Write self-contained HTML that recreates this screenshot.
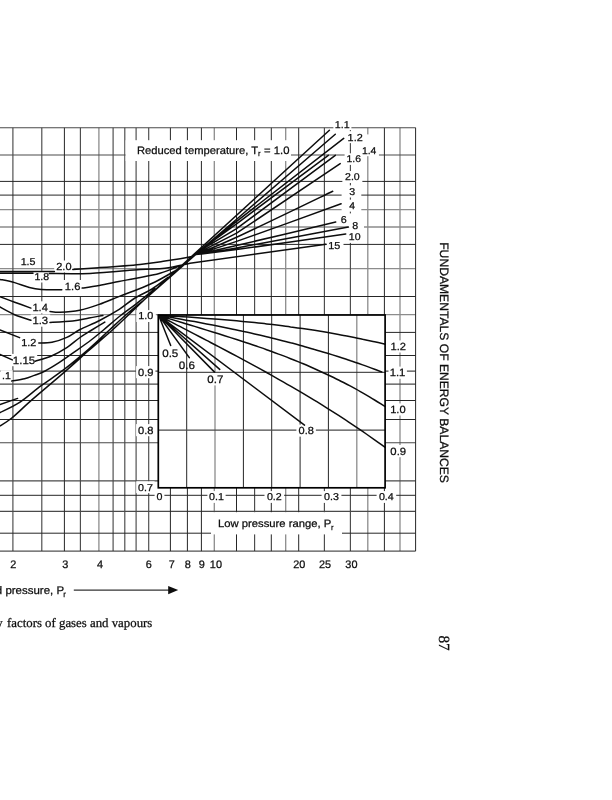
<!DOCTYPE html>
<html><head><meta charset="utf-8"><title>Compressibility chart</title>
<style>html,body{margin:0;padding:0;background:#fff;width:612px;height:800px;overflow:hidden}svg{display:block;text-rendering:geometricPrecision}</style>
</head><body>
<svg width="612" height="800" viewBox="0 0 612 800">
<rect width="612" height="800" fill="#fff"/>
<path d="M98.9 127.7V551.1M214.3 127.7V551.1M285.7 127.7V551.1M367.8 127.7V551.1M400.0 127.7V551.1M0.0 209.7H415.6M0.0 227.0H415.6M0.0 268.7H415.6M0.0 314.6H415.6" stroke="#8c8c8c" stroke-width="1.30" fill="none"/>
<path d="M12.9 127.7V551.1M41.8 127.7V551.1M80.4 127.7V551.1M113.1 127.7V551.1M124.8 127.7V551.1M136.1 127.7V551.1M148.7 127.7V551.1M254.6 127.7V551.1M324.4 127.7V551.1M350.4 127.7V551.1M0.0 155.0H415.6M0.0 371.1H415.6M0.0 384.1H415.6M0.0 442.7H415.6M0.0 480.9H415.6M0.0 511.4H415.6" stroke="#4a4a4a" stroke-width="1.15" fill="none"/>
<path d="M64.4 127.7V551.1M170.4 127.7V551.1M187.4 127.7V551.1M201.4 127.7V551.1M236.5 127.7V551.1M271.3 127.7V551.1M298.7 127.7V551.1M384.4 127.7V551.1M0.0 181.4H415.6M0.0 195.1H415.6M0.0 244.4H415.6M0.0 296.5H415.6M0.0 332.4H415.6M0.0 355.5H415.6M0.0 400.5H415.6M0.0 419.5H415.6M0.0 495.3H415.6M0.0 533.2H415.6" stroke="#262626" stroke-width="1.00" fill="none"/>
<path d="M0 127.7H415.6" stroke="#4a4a4a" stroke-width="1.15" fill="none"/>
<path d="M415.6 127.7V551.1H0" stroke="#262626" stroke-width="1.00" fill="none"/>
<rect x="125.6" y="140.2" width="165.4" height="20.8" fill="#fff"/>
<rect x="211.0" y="512.2" width="131.0" height="22.2" fill="#fff"/>
<rect x="158.3" y="315.0" width="226.8" height="172.8" fill="#fff"/>
<path d="M186.7 315.0V487.8" stroke="#262626" stroke-width="1.00"/>
<path d="M215.0 315.0V487.8" stroke="#8c8c8c" stroke-width="1.30"/>
<path d="M243.4 315.0V487.8" stroke="#262626" stroke-width="1.00"/>
<path d="M271.7 315.0V487.8" stroke="#262626" stroke-width="1.00"/>
<path d="M300.1 315.0V487.8" stroke="#262626" stroke-width="1.00"/>
<path d="M328.4 315.0V487.8" stroke="#262626" stroke-width="1.00"/>
<path d="M356.8 315.0V487.8" stroke="#8c8c8c" stroke-width="1.30"/>
<path d="M158.3 372.3H385.1" stroke="#262626" stroke-width="1.00"/>
<path d="M158.3 430.1H385.1" stroke="#4a4a4a" stroke-width="1.15"/>
<rect x="63.0" y="281" width="19.5" height="15" fill="#fff"/>
<rect x="360.0" y="134.4" width="18.5" height="21.7" fill="#fff"/>
<rect x="342.5" y="171.2" width="19.7" height="11.7" fill="#fff"/>
<rect x="341.6" y="185.6" width="19.7" height="11.7" fill="#fff"/>
<rect x="341.6" y="199.8" width="19.7" height="11.6" fill="#fff"/>
<rect x="336.0" y="213.4" width="15.0" height="11.8" fill="#fff"/>
<rect x="348.0" y="220.1" width="16.0" height="11.8" fill="#fff"/>
<rect x="346.0" y="231.0" width="18.0" height="11.7" fill="#fff"/>
<rect x="326.6" y="239.9" width="16.9" height="11.9" fill="#fff"/>
<rect x="333.4" y="118.3" width="18.0" height="11.8" fill="#fff"/>
<rect x="345.6" y="131.2" width="19.5" height="11.9" fill="#fff"/>
<rect x="359.9" y="144.5" width="19.0" height="11.6" fill="#fff"/>
<rect x="344.6" y="153.3" width="18.6" height="11.6" fill="#fff"/>
<rect x="342.7" y="171.2" width="19.5" height="11.7" fill="#fff"/>
<rect x="347.0" y="185.6" width="10.4" height="11.7" fill="#fff"/>
<rect x="347.0" y="199.8" width="10.4" height="11.6" fill="#fff"/>
<rect x="338.7" y="213.4" width="10.2" height="11.8" fill="#fff"/>
<rect x="350.2" y="220.1" width="10.2" height="11.8" fill="#fff"/>
<rect x="347.0" y="231.0" width="15.8" height="11.7" fill="#fff"/>
<rect x="326.9" y="239.9" width="15.1" height="11.9" fill="#fff"/>
<rect x="18.9" y="255.7" width="18.8" height="11.8" fill="#fff"/>
<rect x="54.2" y="260.5" width="19.5" height="12.0" fill="#fff"/>
<rect x="32.9" y="270.8" width="18.0" height="11.7" fill="#fff"/>
<rect x="63.0" y="280.0" width="19.5" height="12.1" fill="#fff"/>
<rect x="30.7" y="301.3" width="19.5" height="12.1" fill="#fff"/>
<rect x="30.7" y="314.5" width="19.5" height="12.2" fill="#fff"/>
<rect x="19.4" y="336.2" width="19.1" height="11.9" fill="#fff"/>
<rect x="11.3" y="353.9" width="25.9" height="12.3" fill="#fff"/>
<rect x="0.5" y="370.2" width="12.2" height="11.7" fill="#fff"/>
<rect x="136.3" y="310.1" width="19.5" height="11.9" fill="#fff"/>
<rect x="136.1" y="366.1" width="19.3" height="12.1" fill="#fff"/>
<rect x="136.1" y="424.1" width="19.3" height="12.1" fill="#fff"/>
<rect x="136.2" y="481.3" width="18.4" height="11.8" fill="#fff"/>
<rect x="154.6" y="491.1" width="9.8" height="11.8" fill="#fff"/>
<rect x="207.4" y="491.1" width="18.2" height="11.8" fill="#fff"/>
<rect x="264.5" y="491.1" width="19.6" height="11.8" fill="#fff"/>
<rect x="321.6" y="491.1" width="19.8" height="11.8" fill="#fff"/>
<rect x="376.6" y="491.1" width="19.6" height="11.8" fill="#fff"/>
<rect x="388.5" y="340.4" width="19.8" height="12.1" fill="#fff"/>
<rect x="388.5" y="366.6" width="18.4" height="12.2" fill="#fff"/>
<rect x="388.5" y="403.4" width="19.3" height="12.1" fill="#fff"/>
<rect x="388.5" y="445.0" width="19.3" height="12.2" fill="#fff"/>
<rect x="205.5" y="373.0" width="19.5" height="12.4" fill="#fff"/>
<rect x="296.4" y="424.6" width="19.5" height="12.0" fill="#fff"/>
<path d="M158.6 315.3 L170.7 345.5 M158.6 315.3 L189.3 357.6 M158.6 315.3 L214.3 371.9 M158.6 315.3 L219.7 369.4 M158.6 315.3 L304.5 425.1 M158.6 315.3 C160.6 316.3 166.6 319.5 170.6 321.6 C174.6 323.7 178.6 325.8 182.6 327.8 C186.6 329.9 190.6 332.0 194.6 334.1 C198.6 336.2 202.6 338.3 206.6 340.4 C210.6 342.5 214.6 344.5 218.6 346.7 C222.6 348.8 226.6 350.9 230.6 353.0 C234.6 355.1 238.6 357.3 242.6 359.4 C246.6 361.6 250.6 363.7 254.6 365.9 C258.6 368.1 262.6 370.3 266.6 372.5 C270.6 374.8 274.6 377.0 278.6 379.3 C282.6 381.5 286.6 383.8 290.6 386.1 C294.6 388.5 298.6 390.8 302.6 393.2 C306.6 395.6 310.6 398.0 314.6 400.4 C318.6 402.8 322.6 405.3 326.6 407.8 C330.6 410.3 334.6 412.9 338.6 415.4 C342.6 418.0 346.6 420.6 350.6 423.3 C354.6 426.0 358.6 428.7 362.6 431.4 C366.6 434.2 370.9 437.2 374.6 439.8 C378.3 442.4 383.2 446.0 384.9 447.2 M158.6 315.3 C160.6 315.9 166.6 317.8 170.6 319.1 C174.6 320.3 178.6 321.5 182.6 322.7 C186.6 324.0 190.6 325.2 194.6 326.4 C198.6 327.6 202.6 328.9 206.6 330.1 C210.6 331.3 214.6 332.6 218.6 333.8 C222.6 335.1 226.6 336.3 230.6 337.6 C234.6 338.9 238.6 340.2 242.6 341.5 C246.6 342.8 250.6 344.1 254.6 345.5 C258.6 346.9 262.6 348.2 266.6 349.7 C270.6 351.1 274.6 352.6 278.6 354.1 C282.6 355.5 286.6 357.1 290.6 358.7 C294.6 360.2 298.6 361.9 302.6 363.5 C306.6 365.2 310.6 366.9 314.6 368.7 C318.6 370.5 322.6 372.3 326.6 374.2 C330.6 376.1 334.6 378.0 338.6 380.0 C342.6 382.0 346.6 384.1 350.6 386.2 C354.6 388.4 358.6 390.6 362.6 392.9 C366.6 395.2 370.9 397.7 374.6 400.0 C378.3 402.2 383.2 405.4 384.9 406.4 M158.6 315.3 C160.6 315.6 166.6 316.6 170.6 317.3 C174.6 318.0 178.6 318.7 182.6 319.4 C186.6 320.2 190.6 320.9 194.6 321.6 C198.6 322.4 202.6 323.1 206.6 323.9 C210.6 324.7 214.6 325.4 218.6 326.2 C222.6 327.0 226.6 327.9 230.6 328.7 C234.6 329.5 238.6 330.4 242.6 331.3 C246.6 332.1 250.6 333.0 254.6 333.9 C258.6 334.9 262.6 335.8 266.6 336.8 C270.6 337.7 274.6 338.7 278.6 339.7 C282.6 340.7 286.6 341.7 290.6 342.8 C294.6 343.8 298.6 344.9 302.6 346.0 C306.6 347.1 310.6 348.3 314.6 349.5 C318.6 350.6 322.6 351.8 326.6 353.0 C330.6 354.3 334.6 355.5 338.6 356.8 C342.6 358.1 346.6 359.4 350.6 360.8 C354.6 362.1 358.6 363.5 362.6 364.9 C366.6 366.3 371.4 368.1 374.6 369.3 C377.8 370.5 380.6 371.6 381.8 372.0 M158.6 315.3 C160.6 315.4 166.6 315.8 170.6 316.0 C174.6 316.2 178.6 316.5 182.6 316.7 C186.6 317.0 190.6 317.2 194.6 317.5 C198.6 317.8 202.6 318.1 206.6 318.4 C210.6 318.7 214.6 319.0 218.6 319.3 C222.6 319.6 226.6 320.0 230.6 320.3 C234.6 320.7 238.6 321.0 242.6 321.4 C246.6 321.8 250.6 322.2 254.6 322.6 C258.6 323.0 262.6 323.4 266.6 323.9 C270.6 324.4 274.6 324.8 278.6 325.3 C282.6 325.8 286.6 326.3 290.6 326.9 C294.6 327.4 298.6 327.9 302.6 328.5 C306.6 329.1 310.6 329.7 314.6 330.3 C318.6 331.0 322.6 331.6 326.6 332.3 C330.6 333.0 334.6 333.7 338.6 334.4 C342.6 335.1 346.6 335.9 350.6 336.7 C354.6 337.5 358.6 338.3 362.6 339.2 C366.6 340.0 370.9 341.0 374.6 341.8 C378.3 342.6 383.2 343.8 384.9 344.2 M0.0 271.4 L54.4 271.4 M72.8 269.4 C77.3 269.1 88.8 268.4 100.0 267.6 C111.2 266.8 129.2 265.5 140.0 264.4 C150.8 263.3 156.8 262.3 165.0 261.1 C173.2 259.9 184.3 258.2 189.5 257.1 C194.7 256.0 194.9 254.9 196.0 254.5 M0.0 273.2 L33.0 273.3 M49.3 273.5 C56.1 273.5 74.9 274.0 90.0 273.4 C105.1 272.8 127.5 270.5 140.0 269.6 C152.5 268.7 156.7 269.2 165.0 268.2 C173.3 267.1 185.8 264.1 190.0 263.3 M190.0 263.3 L326.0 244.3 M0.0 279.4 C2.4 279.9 9.8 281.2 14.7 282.6 C19.6 284.0 25.0 286.4 29.4 287.5 C33.8 288.6 35.8 289.0 41.2 289.4 C46.6 289.8 58.4 289.6 61.8 289.7 M82.2 288.1 C85.0 287.7 93.1 286.6 99.2 285.5 C105.3 284.4 112.8 282.7 118.8 281.5 C124.8 280.3 128.1 279.8 135.0 278.4 C141.9 277.0 151.7 275.6 160.0 273.2 C168.3 270.8 180.8 265.5 185.0 264.0 M0.0 296.8 C2.4 297.7 9.6 300.3 14.7 302.2 C19.8 304.1 28.2 307.1 30.9 308.1 M50.0 311.5 C51.7 311.6 55.1 312.5 60.0 312.3 C64.9 312.1 73.1 311.6 79.6 310.3 C86.1 309.0 92.7 306.7 99.2 304.4 C105.7 302.1 112.8 298.9 118.8 296.6 C124.8 294.3 129.0 292.9 135.0 290.5 C141.0 288.1 147.7 285.6 155.0 282.0 C162.3 278.4 175.0 270.8 179.0 268.6 M0.0 307.0 C2.4 308.3 9.6 312.5 14.7 314.7 C19.8 316.9 28.2 319.4 30.9 320.3 M50.0 322.4 C53.8 322.2 66.2 321.7 72.7 321.0 C79.2 320.3 84.0 319.0 89.0 318.1 C94.0 317.2 100.6 315.8 102.9 315.4 M0.0 330.0 L19.6 337.6 M38.8 343.0 C41.0 342.9 47.3 343.2 52.0 342.3 C56.7 341.4 62.1 339.5 66.8 337.4 C71.5 335.3 74.5 332.3 80.0 329.5 C85.5 326.7 93.1 323.9 99.6 320.5 C106.1 317.1 113.3 313.1 119.2 309.4 C125.1 305.6 129.5 301.4 135.0 298.0 C140.5 294.6 146.5 292.4 152.0 289.0 C157.5 285.6 165.3 279.3 168.0 277.4 M0.0 354.5 L12.3 359.9 M35.3 361.2 C38.1 360.3 46.8 358.0 52.0 355.7 C57.2 353.4 62.1 350.6 66.8 347.6 C71.5 344.6 75.8 340.4 80.0 337.5 C84.2 334.6 87.7 332.6 91.8 330.0 C95.9 327.4 102.6 323.4 104.8 322.1 M11.8 381.0 C13.9 380.6 20.8 379.7 24.5 378.8 C28.2 377.9 30.9 376.7 34.3 375.4 C37.7 374.1 40.9 373.2 45.1 371.0 C49.3 368.8 53.8 366.0 59.4 362.4 C65.0 358.8 73.2 352.8 78.5 349.1 C83.8 345.4 86.9 343.2 91.1 340.0 C95.3 336.8 98.7 334.0 103.5 330.0 C108.3 326.0 114.5 320.4 120.0 316.0 C125.5 311.6 130.4 308.4 136.2 303.8 C142.0 299.2 151.9 291.2 155.0 288.7 M0.0 404.5 L17.6 398.4 M0.0 412.6 C3.3 410.9 12.7 406.9 19.6 402.4 C26.5 397.9 33.8 391.1 41.2 385.7 C48.6 380.2 55.9 375.8 63.8 369.7 C71.7 363.6 81.2 355.7 88.8 349.1 C96.4 342.5 102.9 336.0 109.4 330.0 C115.9 324.0 122.2 318.0 128.0 313.0 C133.8 308.0 141.3 302.2 144.0 300.0 M0.0 425.9 C2.0 424.6 6.4 422.4 11.8 418.0 C17.2 413.6 23.7 407.0 32.4 399.4 C41.1 391.8 54.4 380.8 63.8 372.6 C73.2 364.5 80.7 357.6 88.8 350.5 C96.9 343.4 105.5 336.2 112.4 330.0 C119.3 323.8 124.7 318.5 130.0 313.5 C135.3 308.5 141.7 302.2 144.0 300.0 M196.0 254.5 C202.8 251.6 213.8 247.8 236.6 237.3 C259.4 226.8 316.7 199.0 332.7 191.3 M196.0 254.5 C202.8 252.3 212.4 249.8 236.6 241.4 C260.8 233.0 323.7 210.1 341.1 203.8 M196.0 254.5 C202.8 253.0 213.3 250.9 236.6 245.5 C259.9 240.1 319.2 225.9 335.7 222.0 M196.0 254.5 C202.8 253.4 211.2 252.5 236.6 247.9 C262.0 243.3 329.8 230.6 348.4 227.1 M196.0 254.5 C202.8 253.7 211.7 253.0 236.6 249.6 C261.6 246.2 327.5 236.5 345.7 233.9 M144.0 300.0 L329.4 130.3 M144.0 300.0 L207.0 244.6 L236.6 219.3 L335.3 134.2 M155.0 290.3 L205.0 246.3 L236.6 221.3 L343.7 138.4 M168.0 278.9 L203.0 248.1 L236.6 223.8 L328.3 155.3 M179.0 269.2 L200.0 250.7 L236.6 228.7 L335.3 155.3 M185.0 263.9 L197.0 253.4 L236.6 233.2 L340.2 163.6" stroke="#0d0d0d" stroke-width="1.5" fill="none" stroke-linecap="round" stroke-linejoin="round"/>
<rect x="158.3" y="315.0" width="226.8" height="172.8" fill="none" stroke="#000" stroke-width="1.7"/>
<g style="font-family:'Liberation Sans',Arial,Helvetica,sans-serif" fill="#0d0d0d" stroke="#0d0d0d" stroke-width="0.25">
<text x="334.80" y="127.55" font-size="10.00" textLength="14.87" lengthAdjust="spacingAndGlyphs">1.1</text>
<text x="347.64" y="140.55" font-size="10.14" textLength="15.09" lengthAdjust="spacingAndGlyphs">1.2</text>
<text x="361.92" y="153.55" font-size="9.71" textLength="14.45" lengthAdjust="spacingAndGlyphs">1.4</text>
<text x="346.52" y="162.35" font-size="9.71" textLength="14.45" lengthAdjust="spacingAndGlyphs">1.6</text>
<text x="345.07" y="180.35" font-size="9.86" textLength="14.66" lengthAdjust="spacingAndGlyphs">2.0</text>
<text x="349.30" y="194.75" font-size="9.86" textLength="5.87" lengthAdjust="spacingAndGlyphs">3</text>
<text x="349.34" y="208.85" font-size="9.71" textLength="5.78" lengthAdjust="spacingAndGlyphs">4</text>
<text x="340.80" y="222.65" font-size="10.00" textLength="5.95" lengthAdjust="spacingAndGlyphs">6</text>
<text x="352.36" y="229.35" font-size="10.00" textLength="5.95" lengthAdjust="spacingAndGlyphs">8</text>
<text x="348.78" y="240.15" font-size="9.86" textLength="11.73" lengthAdjust="spacingAndGlyphs">10</text>
<text x="328.16" y="249.25" font-size="10.14" textLength="12.07" lengthAdjust="spacingAndGlyphs">15</text>
<text x="20.65" y="264.95" font-size="10.00" textLength="14.87" lengthAdjust="spacingAndGlyphs">1.5</text>
<text x="56.25" y="269.95" font-size="10.29" textLength="15.30" lengthAdjust="spacingAndGlyphs">2.0</text>
<text x="34.41" y="279.95" font-size="9.86" textLength="14.66" lengthAdjust="spacingAndGlyphs">1.8</text>
<text x="64.83" y="289.55" font-size="10.43" textLength="15.51" lengthAdjust="spacingAndGlyphs">1.6</text>
<text x="32.42" y="310.85" font-size="10.43" textLength="15.51" lengthAdjust="spacingAndGlyphs">1.4</text>
<text x="32.42" y="324.15" font-size="10.57" textLength="15.72" lengthAdjust="spacingAndGlyphs">1.3</text>
<text x="21.24" y="345.55" font-size="10.14" textLength="15.09" lengthAdjust="spacingAndGlyphs">1.2</text>
<text x="12.84" y="363.65" font-size="10.71" textLength="22.31" lengthAdjust="spacingAndGlyphs">1.15</text>
<text x="1.96" y="379.35" font-size="9.86" textLength="8.80" lengthAdjust="spacingAndGlyphs">.1</text>
<text x="138.29" y="319.45" font-size="10.14" textLength="15.09" lengthAdjust="spacingAndGlyphs">1.0</text>
<text x="138.05" y="375.65" font-size="10.43" textLength="15.51" lengthAdjust="spacingAndGlyphs">0.9</text>
<text x="138.05" y="433.65" font-size="10.43" textLength="15.51" lengthAdjust="spacingAndGlyphs">0.8</text>
<text x="138.02" y="490.55" font-size="10.00" textLength="14.87" lengthAdjust="spacingAndGlyphs">0.7</text>
<text x="156.50" y="500.35" font-size="10.00" textLength="5.95" lengthAdjust="spacingAndGlyphs">0</text>
<text x="209.12" y="500.35" font-size="10.00" textLength="14.87" lengthAdjust="spacingAndGlyphs">0.1</text>
<text x="266.92" y="500.35" font-size="10.00" textLength="14.87" lengthAdjust="spacingAndGlyphs">0.2</text>
<text x="324.12" y="500.35" font-size="10.00" textLength="14.87" lengthAdjust="spacingAndGlyphs">0.3</text>
<text x="378.91" y="500.35" font-size="10.00" textLength="14.87" lengthAdjust="spacingAndGlyphs">0.4</text>
<text x="390.48" y="349.95" font-size="10.43" textLength="15.51" lengthAdjust="spacingAndGlyphs">1.2</text>
<text x="389.67" y="376.25" font-size="10.57" textLength="15.72" lengthAdjust="spacingAndGlyphs">1.1</text>
<text x="390.17" y="412.95" font-size="10.43" textLength="15.51" lengthAdjust="spacingAndGlyphs">1.0</text>
<text x="390.35" y="454.65" font-size="10.57" textLength="15.72" lengthAdjust="spacingAndGlyphs">0.9</text>
<text x="162.18" y="356.75" font-size="10.86" textLength="16.15" lengthAdjust="spacingAndGlyphs">0.5</text>
<text x="178.83" y="368.65" font-size="10.86" textLength="16.15" lengthAdjust="spacingAndGlyphs">0.6</text>
<text x="207.23" y="382.85" font-size="10.86" textLength="16.15" lengthAdjust="spacingAndGlyphs">0.7</text>
<text x="298.56" y="434.05" font-size="10.29" textLength="15.30" lengthAdjust="spacingAndGlyphs">0.8</text>
<text x="13.4" y="567.5" font-size="10.9" text-anchor="middle">2</text>
<text x="65.2" y="567.5" font-size="10.9" text-anchor="middle">3</text>
<text x="100.0" y="567.5" font-size="10.9" text-anchor="middle">4</text>
<text x="148.7" y="567.5" font-size="10.9" text-anchor="middle">6</text>
<text x="171.7" y="567.5" font-size="10.9" text-anchor="middle">7</text>
<text x="187.8" y="567.5" font-size="10.9" text-anchor="middle">8</text>
<text x="201.8" y="567.5" font-size="10.9" text-anchor="middle">9</text>
<text x="215.9" y="567.5" font-size="10.9" text-anchor="middle">10</text>
<text x="299.3" y="567.5" font-size="10.9" text-anchor="middle">20</text>
<text x="325.0" y="567.5" font-size="10.9" text-anchor="middle">25</text>
<text x="351.4" y="567.5" font-size="10.9" text-anchor="middle">30</text>
<text x="137.01" y="153.60" font-size="10.80" textLength="121.02" lengthAdjust="spacingAndGlyphs">Reduced temperature, T</text>
<text x="258.0" y="156.3" font-size="7.6">r</text>
<text x="264.14" y="153.60" font-size="10.80" textLength="25.42" lengthAdjust="spacingAndGlyphs">= 1.0</text>
<text x="218.00" y="526.80" font-size="10.60" textLength="113.27" lengthAdjust="spacingAndGlyphs">Low pressure range, P</text>
<text x="331.0" y="529.6" font-size="7.6">r</text>
<text x="-4.16" y="594.30" font-size="11.00" textLength="68.20" lengthAdjust="spacingAndGlyphs">d pressure, P</text>
<text x="63.3" y="597.2" font-size="8">r</text>
</g>
<path d="M73.8 590.1H170" stroke="#333" stroke-width="1.2"/>
<path d="M178.2 590.1L168.2 585.9L168.2 594.3Z" fill="#0d0d0d"/>
<g style="font-family:'Liberation Serif','Times New Roman',serif" fill="#0d0d0d" stroke="#0d0d0d" stroke-width="0.25"><text x="7.02" y="627.00" font-size="12.80" textLength="145.30" lengthAdjust="spacingAndGlyphs">factors of gases and vapours</text><text x="-3.8" y="627" font-size="12.8">y</text></g>
<g style="font-family:'Liberation Sans',Arial,Helvetica,sans-serif" fill="#0d0d0d" stroke="#0d0d0d" stroke-width="0.25" transform="translate(439.8 0) rotate(90)"><text x="242.23" y="0" font-size="12.20" textLength="240.73" lengthAdjust="spacingAndGlyphs">FUNDAMENTALS OF ENERGY BALANCES</text></g>
<g style="font-family:'Liberation Serif','Times New Roman',serif" fill="#0d0d0d" stroke="#0d0d0d" stroke-width="0.25" transform="translate(439.4 0) rotate(90)"><text x="635.38" y="0.00" font-size="15.50" textLength="15.38" lengthAdjust="spacingAndGlyphs">87</text></g>
</svg>
</body></html>
